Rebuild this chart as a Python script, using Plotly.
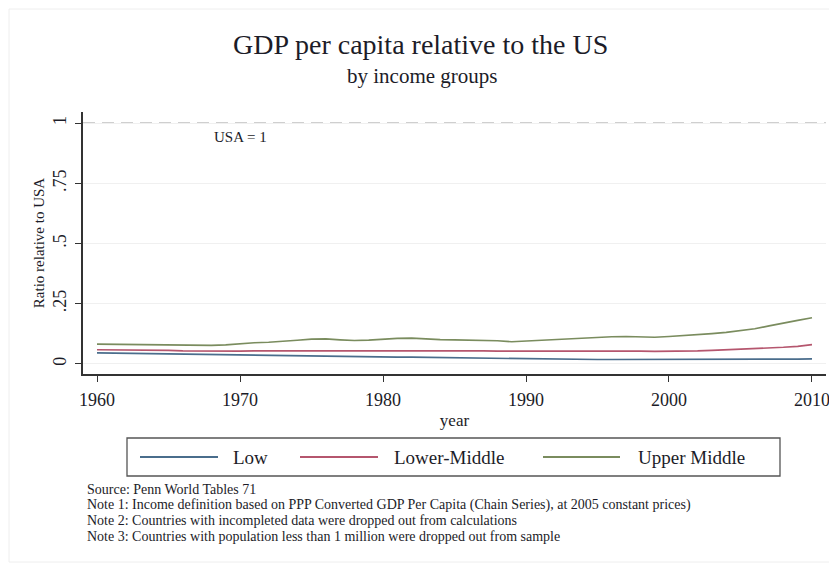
import plotly.graph_objects as go

years = list(range(1960, 2011))

low = [.046, .045, .044, .044, .043, .042, .040, .039, .038, .038,
       .038, .037, .036, .035, .034, .033, .032, .031, .030, .029,
       .029, .028, .028, .027, .026, .025, .024, .023, .022, .021,
       .021, .020, .020, .019, .019, .018, .018, .018, .017, .017,
       .017, .017, .017, .017, .017, .017, .018, .019, .019, .020, .021]

lower_middle = [.059, .059, .058, .058, .057, .056, .054, .053, .052, .051,
                .053, .054, .054, .055, .056, .057, .057, .056, .055, .055,
                .056, .056, .056, .055, .055, .054, .054, .054, .053, .053,
                .054, .054, .055, .055, .055, .056, .056, .055, .053, .052,
                .052, .053, .054, .056, .058, .060, .062, .065, .069, .073, .080]

upper_middle = [.082, .081, .080, .079, .080, .079, .078, .077, .077, .079,
                .085, .088, .090, .093, .098, .103, .104, .100, .097, .099,
                .104, .106, .107, .103, .101, .100, .099, .098, .096, .092,
                .095, .100, .103, .105, .108, .111, .113, .114, .112, .111,
                .114, .117, .121, .126, .131, .138, .146, .158, .171, .181, .192]

series_names = ["Low", "Lower-Middle", "Upper Middle"]
series_values = [low, lower_middle, upper_middle]
series_colors = ["#4a6d8c", "#b5566e", "#7a8c5e"]

x_ticks = [1960, 1970, 1980, 1990, 2000, 2010]
y_ticks = [0, 0.25, 0.5, 0.75, 1]
y_ticktext = ["0", ".25", ".5", ".75", "1"]

notes = [
    "Source: Penn World Tables 71",
    "Note 1: Income definition based on PPP Converted GDP Per Capita (Chain Series), at 2005 constant prices)",
    "Note 2: Countries with incompleted data were dropped out from calculations",
    "Note 3: Countries with population less than 1 million were dropped out from sample",
]

FONT = "Liberation Serif, Times New Roman, serif"
TXT = "#1c1c28"

# page geometry (browser body has an 8px margin)
OFF = 8
W, H = 837 - OFF, 571 - 2 * OFF
PLOT_L, PLOT_R, PLOT_T, PLOT_B = 83, 826, 112, 374   # in page pixels
L = PLOT_L - OFF
R = (OFF + W) - PLOT_R
T = PLOT_T - OFF
B = (OFF + H) - PLOT_B
PW = PLOT_R - PLOT_L
PH = PLOT_B - PLOT_T


def px2x(px):
    return (px - PLOT_L) / PW


def py2y(py):
    return (PLOT_B - py) / PH


fig = go.Figure()
for name, vals, col in zip(series_names, series_values, series_colors):
    fig.add_trace(go.Scatter(x=years, y=vals, mode="lines", name=name,
                             line=dict(color=col, width=1.6), showlegend=False))

shapes = []
# USA = 1 reference line
shapes.append(dict(type="line", xref="paper", yref="y", x0=0, x1=1, y0=1, y1=1,
                   line=dict(color="#a0a0a0", width=1.5, dash="12px,7px"), layer="below"))
# outer faint frame
shapes.append(dict(type="rect", xref="paper", yref="paper",
                   x0=px2x(9), x1=px2x(831), y0=py2y(562), y1=py2y(9),
                   line=dict(color="#eeeeee", width=1)))
# legend box
shapes.append(dict(type="rect", xref="paper", yref="paper",
                   x0=px2x(127), x1=px2x(780), y0=py2y(476), y1=py2y(438),
                   line=dict(color="#555555", width=1.3), fillcolor="white"))

annotations = []
leg_items = [(140, 218, 231), (300, 378, 392), (543, 620, 636)]
ly = py2y(457)
for (a, b, t), name, col in zip(leg_items, series_names, series_colors):
    shapes.append(dict(type="line", xref="paper", yref="paper", x0=px2x(a), x1=px2x(b),
                       y0=ly, y1=ly, line=dict(color=col, width=2)))
    annotations.append(dict(text=name, xref="paper", yref="paper", x=px2x(t), y=ly,
                            xanchor="left", yanchor="middle", showarrow=False,
                            font=dict(family=FONT, size=19, color=TXT)))

annotations.append(dict(text="GDP per capita relative to the US", xref="paper", yref="paper",
                        x=px2x(420), y=py2y(44), xanchor="center", yanchor="middle",
                        showarrow=False, font=dict(family=FONT, size=28, color=TXT)))
annotations.append(dict(text="by income groups", xref="paper", yref="paper",
                        x=px2x(422), y=py2y(76), xanchor="center", yanchor="middle",
                        showarrow=False, font=dict(family=FONT, size=21, color=TXT)))
annotations.append(dict(text="USA = 1", xref="x", yref="y", x=1970, y=0.943,
                        xanchor="center", yanchor="middle", showarrow=False,
                        font=dict(family=FONT, size=15, color=TXT)))
for i, line in enumerate(notes):
    annotations.append(dict(text=line, xref="paper", yref="paper", x=px2x(86),
                            y=py2y(489 + 15.7 * i), xanchor="left", yanchor="middle",
                            showarrow=False, borderpad=0,
                            font=dict(family=FONT, size=14, color=TXT)))

fig.update_layout(
    width=W, height=H,
    margin=dict(l=L, r=R, t=T, b=B, autoexpand=False),
    paper_bgcolor="white", plot_bgcolor="white",
    shapes=shapes, annotations=annotations,
    showlegend=False,
    font=dict(family=FONT, color=TXT),
)
fig.update_xaxes(range=[1959.02, 2010.98], tickvals=x_ticks, ticks="outside", ticklen=6,
                 tickwidth=1.3, tickcolor="#333333", showline=True, linecolor="#333333",
                 linewidth=1.5, showgrid=False, zeroline=False, ticklabeloverflow="allow",
                 tickfont=dict(family=FONT, size=18, color=TXT), ticklabelstandoff=3,
                 title=dict(text="year", font=dict(family=FONT, size=17, color=TXT), standoff=5))
fig.update_yaxes(range=[-0.042, 1.047], tickvals=y_ticks, ticktext=y_ticktext, tickangle=-90,
                 ticks="outside", ticklen=6, tickwidth=1.3, tickcolor="#333333",
                 showline=True, linecolor="#333333", linewidth=1.5,
                 showgrid=True, gridcolor="#f0f0f0", gridwidth=1, zeroline=False,
                 tickfont=dict(family=FONT, size=18, color=TXT), ticklabelstandoff=2,
                 title=dict(text="Ratio relative to USA", font=dict(family=FONT, size=15, color=TXT),
                            standoff=2))

fig.write_html("out.html")
